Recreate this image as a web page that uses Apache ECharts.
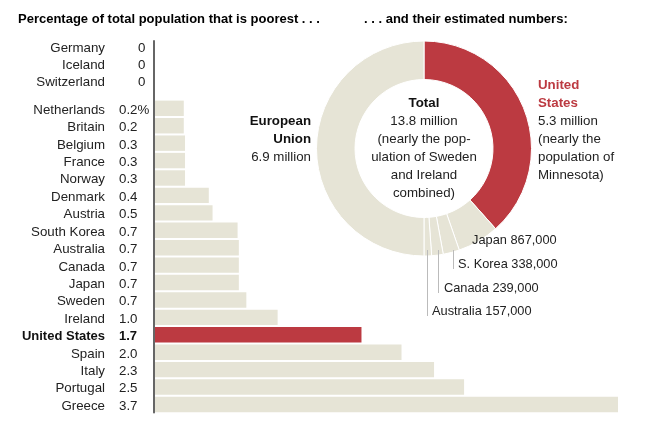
<!DOCTYPE html>
<html>
<head>
<meta charset="utf-8">
<style>
html, body { margin: 0; padding: 0; background: #fff; }
#chart { width: 654px; height: 430px; }
</style>
<script src="https://cdn.jsdelivr.net/npm/echarts@6/dist/echarts.min.js"></script>
</head>
<body>
<div id="chart"></div>
<script>
var topCountries = ['Germany', 'Iceland', 'Switzerland'];
var topLabels = ['0', '0', '0'];
var topValues = [0, 0, 0];

var countries = ['Netherlands', 'Britain', 'Belgium', 'France', 'Norway', 'Denmark', 'Austria',
    'South Korea', 'Australia', 'Canada', 'Japan', 'Sweden', 'Ireland', 'United States',
    'Spain', 'Italy', 'Portugal', 'Greece'];
var valueLabels = ['0.2%', '0.2', '0.3', '0.3', '0.3', '0.4', '0.5', '0.7', '0.7', '0.7', '0.7',
    '0.7', '1.0', '1.7', '2.0', '2.3', '2.5', '3.7'];
// bar lengths, a bit finer than the printed labels
var barValues = [0.23, 0.23, 0.24, 0.24, 0.24, 0.43, 0.46, 0.66, 0.67, 0.67, 0.67, 0.73, 0.98,
    1.65, 1.97, 2.23, 2.47, 3.7];

var pieNames = ['United States', 'Japan', 'S. Korea', 'Canada', 'Australia', 'European Union'];
var pieValues = [5300000, 867000, 338000, 239000, 157000, 6900000];

var HIGHLIGHT = 'United States';
var RED = '#bc3a41';
var TAN = '#e6e4d6';
var INK = '#222222';
var FONT = '"Liberation Sans", Arial, sans-serif';
var TEXT_SIZE = 13.3;
// labels sit a little below the bar centre in the original
var LABEL_LINE = 3.5;

function labelItems(list, refs, align) {
    return list.map(function (text, i) {
        if (refs[i] == HIGHLIGHT) {
            return {
                value: text,
                textStyle: {
                    fontWeight: 'bold',
                    fontSize: 13,
                    color: '#111',
                    align: align,
                    verticalAlign: 'top',
                    lineHeight: LABEL_LINE
                }
            };
        }
        return text;
    });
}

function yAxes(gridIndex, names, labels) {
    var common = {
        type: 'category',
        gridIndex: gridIndex,
        inverse: true,
        position: 'left',
        axisLine: { show: false },
        axisTick: { show: false },
        splitLine: { show: false }
    };
    return [
        Object.assign({}, common, {
            data: labelItems(names, names, 'right'),
            axisLabel: {
                interval: 0,
                margin: 50,
                verticalAlign: 'top',
                lineHeight: LABEL_LINE,
                fontSize: TEXT_SIZE,
                color: INK,
                fontFamily: FONT
            }
        }),
        Object.assign({}, common, {
            data: labelItems(labels, names, 'left'),
            axisLabel: {
                interval: 0,
                align: 'left',
                margin: gridIndex == 0 ? 17 : 36,
                verticalAlign: 'top',
                lineHeight: LABEL_LINE,
                fontSize: TEXT_SIZE,
                color: INK,
                fontFamily: FONT
            }
        })
    ];
}

function hiddenX(gridIndex) {
    return { type: 'value', gridIndex: gridIndex, min: 0, max: 3.7, show: false };
}

function barSeries(axisIndex, yIndex, names, values) {
    return {
        type: 'bar',
        silent: true,
        xAxisIndex: axisIndex,
        yAxisIndex: yIndex,
        barWidth: 15.4,
        data: values.map(function (v, i) {
            return { value: v, itemStyle: { color: names[i] == HIGHLIGHT ? RED : TAN } };
        })
    };
}

function textBlock(x, y, align, lines, size) {
    var px = size || TEXT_SIZE;
    return {
        type: 'text',
        z: 100,
        x: x,
        y: y,
        style: {
            text: lines.join('\n'),
            align: align,
            verticalAlign: 'top',
            fill: INK,
            font: px + 'px ' + FONT,
            lineHeight: 18,
            rich: {
                b: { font: 'bold ' + px + 'px ' + FONT, fill: '#111', lineHeight: 18 },
                r: { font: 'bold ' + px + 'px ' + FONT, fill: RED, lineHeight: 18 },
                n: { font: px + 'px ' + FONT, fill: INK, lineHeight: 18 }
            }
        }
    };
}

function leader(x, y1, y2) {
    return {
        type: 'line',
        z: 100,
        shape: { x1: x, y1: y1, x2: x, y2: y2 },
        style: { stroke: '#bbbbbb', lineWidth: 1 }
    };
}

function heading(x, text) {
    return {
        type: 'text',
        x: x,
        y: 13,
        style: { text: text, fill: '#000', font: 'bold 13px ' + FONT }
    };
}

var myChart = echarts.init(document.getElementById('chart'));

var topAxes = yAxes(0, topCountries, topLabels);
var mainAxes = yAxes(1, countries, valueLabels);

var option = {
    animation: false,
    grid: [
        { left: 155, width: 463, top: 37.9, height: 51.6 },
        { left: 155, width: 463, top: 99.6, height: 313.6 },
        { left: 154, width: 463, top: 41, height: 371.5 } // only carries the vertical rule
    ],
    xAxis: [hiddenX(0), hiddenX(1), hiddenX(2)],
    yAxis: topAxes.concat(mainAxes).concat([{
        type: 'category',
        gridIndex: 2,
        data: [],
        axisTick: { show: false },
        axisLabel: { show: false },
        axisLine: { show: true, lineStyle: { color: '#666666', width: 2 } }
    }]),
    series: [
        barSeries(0, 0, topCountries, topValues),
        barSeries(1, 2, countries, barValues),
        {
            type: 'pie',
            silent: true,
            center: [424, 148.5],
            radius: [69, 107.5],
            startAngle: 90,
            clockwise: true,
            label: { show: false },
            labelLine: { show: false },
            itemStyle: { borderColor: '#fff', borderWidth: 1 },
            data: pieNames.map(function (name, i) {
                return {
                    name: name,
                    value: pieValues[i],
                    itemStyle: { color: name == HIGHLIGHT ? RED : TAN }
                };
            })
        }
    ],
    graphic: [
        heading(18, 'Percentage of total population that is poorest . . .'),
        heading(364, '. . . and their estimated numbers:'),
        textBlock(424, 94, 'center', ['{b|Total}', '13.8 million', '(nearly the pop-',
            'ulation of Sweden', 'and Ireland', 'combined)']),
        textBlock(538, 76, 'left', ['{r|United}', '{r|States}', '5.3 million', '(nearly the',
            'population of', 'Minnesota)']),
        textBlock(311, 112, 'right', ['{b|European}', '{b|Union}', '6.9 million']),
        textBlock(472, 231, 'left', ['Japan 867,000'], 12.8),
        textBlock(458, 255, 'left', ['S. Korea 338,000'], 12.8),
        textBlock(444, 279, 'left', ['Canada 239,000'], 12.8),
        textBlock(432, 302, 'left', ['Australia 157,000'], 12.8),
        leader(453.5, 250, 269),
        leader(438.5, 250, 293),
        leader(427.5, 250, 316)
    ]
};
myChart.setOption(option);
</script>
</body>
</html>
